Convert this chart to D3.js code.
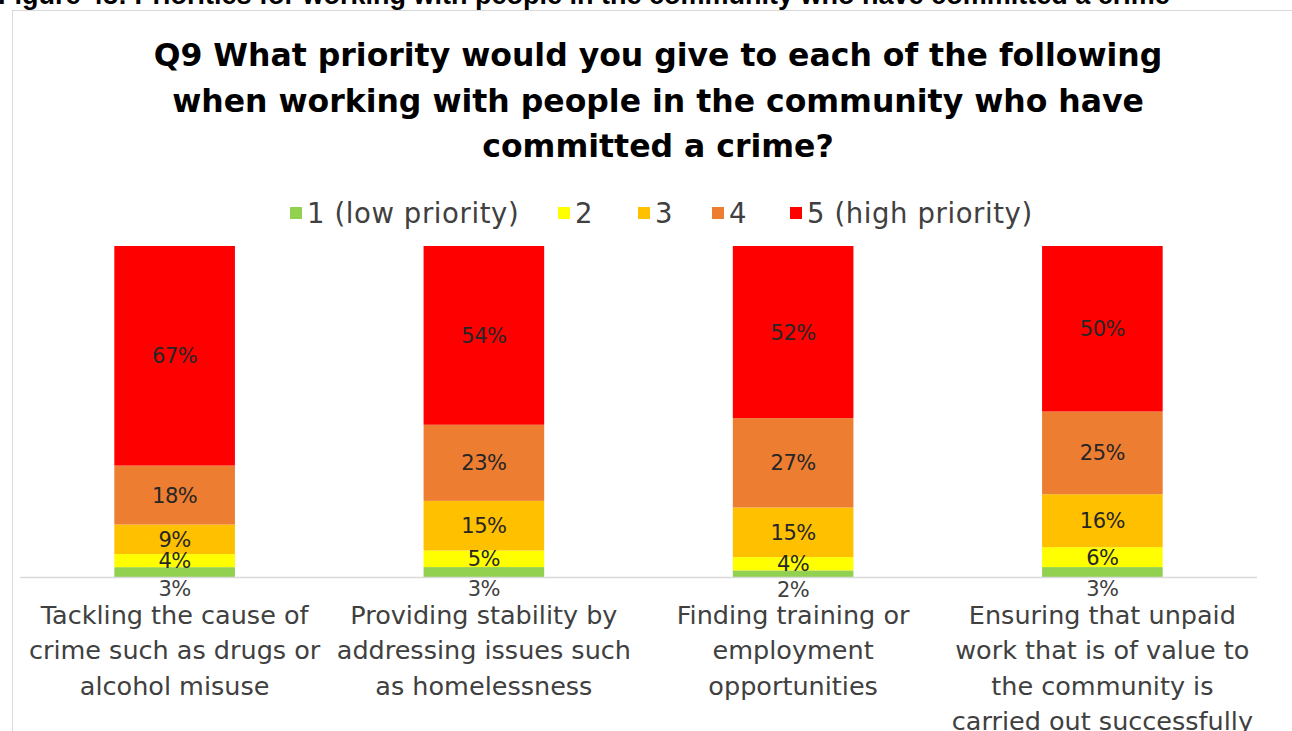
<!DOCTYPE html>
<html>
<head>
<meta charset="utf-8">
<script src="https://cdn.jsdelivr.net/npm/d3@7"></script>
<style>
  body { margin: 0; background: #fff; }
  svg { display: block; }
  text { font-family: "DejaVu Sans", sans-serif; }
</style>
</head>
<body>
<div id="chart"></div>
<script>
// chart data
const categories = [
  ["Tackling the cause of", "crime such as drugs or", "alcohol misuse"],
  ["Providing stability by", "addressing issues such", "as homelessness"],
  ["Finding training or", "employment", "opportunities"],
  ["Ensuring that unpaid", "work that is of value to", "the community is", "carried out successfully"]
];
const seriesNames = ["1 (low priority)", "2", "3", "4", "5 (high priority)"];
const p1 = [3, 3, 2, 3];
const p2 = [4, 5, 4, 6];
const p3 = [9, 15, 15, 16];
const p4 = [18, 23, 27, 25];
const p5 = [67, 54, 52, 50];
const colors = ["#92D050", "#FFFF00", "#FFC000", "#ED7D31", "#FF0000"];
const titleLines = [
  "Q9 What priority would you give to each of the following",
  "when working with people in the community who have",
  "committed a crime?"
];
const caption = "Figure 48: Priorities for working with people in the community who have committed a crime";

const width = 1292, height = 731;
const values = [p1, p2, p3, p4, p5];
const keys = seriesNames.map((d, i) => "s" + i);
const rows = categories.map((c, j) => {
  let r = { idx: j };
  keys.forEach((k, i) => r[k] = values[i][j]);
  return r;
});

const svg = d3.select("#chart").append("svg")
  .attr("width", width).attr("height", height);

// caption cut by the top of the page
svg.append("text")
  .attr("x", -2).attr("y", 4)
  .style("font-family", "'Liberation Sans', Arial, sans-serif")
  .style("font-weight", "bold")
  .style("font-size", "27px")
  .attr("fill", "#000")
  .text(caption);

// chart frame
svg.append("rect")
  .attr("x", 12.5).attr("y", 10.5)
  .attr("width", 1300).attr("height", 760)
  .attr("fill", "none").attr("stroke", "#d9d9d9");

// title
svg.append("g").selectAll("text")
  .data(titleLines).enter().append("text")
  .attr("x", 658)
  .attr("y", (d, i) => 66 + i * 45.5)
  .attr("text-anchor", "middle")
  .style("font-weight", "bold")
  .style("font-size", "31.5px")
  .attr("fill", "#000")
  .text(d => d);

// scales
const x = d3.scaleBand()
  .domain(rows.map(d => d.idx))
  .range([20, 1257])
  .paddingInner(0.61)
  .paddingOuter(0.305);

const y = d3.scaleLinear().domain([0, 1]).range([577, 246]);

const stack = d3.stack().keys(keys).offset(d3.stackOffsetExpand);
const series = stack(rows);

const layers = svg.append("g").selectAll("g")
  .data(series).enter().append("g")
  .attr("fill", (d, i) => colors[i]);

layers.selectAll("rect")
  .data(d => d).enter().append("rect")
  .attr("x", d => x(d.data.idx))
  .attr("width", x.bandwidth())
  .attr("y", d => y(d[1]))
  .attr("height", d => y(d[0]) - y(d[1]));

// axis line
svg.append("line")
  .attr("x1", 20).attr("x2", 1257)
  .attr("y1", 577.5).attr("y2", 577.5)
  .attr("stroke", "#d9d9d9").attr("stroke-width", 1.5);

// data labels
series.forEach((s, i) => {
  svg.append("g").selectAll("text")
    .data(s).enter().append("text")
    .attr("x", d => x(d.data.idx) + x.bandwidth() / 2)
    .attr("y", d => (y(d[0]) + y(d[1])) / 2 + (i === 0 ? 16 : 0))
    .attr("dy", "0.36em")
    .attr("text-anchor", "middle")
    .style("font-size", "21px")
    .style("letter-spacing", "-0.5px")
    .attr("fill", i === 0 ? "#404040" : "#262626")
    .text(d => d.data["s" + i] + "%");
});

// category labels
const cat = svg.append("g").selectAll("text")
  .data(categories).enter().append("text")
  .attr("text-anchor", "middle")
  .style("font-size", "25.5px")
  .attr("fill", "#404040");
cat.each(function (lines, j) {
  d3.select(this).selectAll("tspan")
    .data(lines).enter().append("tspan")
    .attr("x", x(j) + x.bandwidth() / 2)
    .attr("y", (d, i) => 623.5 + i * 35.5)
    .text(d => d);
});

// legend
const legendX = [290, 558, 638, 712, 790];
const legend = svg.append("g").selectAll("g")
  .data(seriesNames).enter().append("g")
  .attr("transform", (d, i) => "translate(" + legendX[i] + ",207)");
legend.append("rect")
  .attr("width", 12).attr("height", 12)
  .attr("fill", (d, i) => colors[i]);
legend.append("text")
  .attr("x", 17).attr("y", 6)
  .attr("dy", "0.36em")
  .style("font-size", "27.5px")
  .style("letter-spacing", "0.6px")
  .attr("fill", "#404040")
  .text(d => d);
</script>
</body>
</html>
